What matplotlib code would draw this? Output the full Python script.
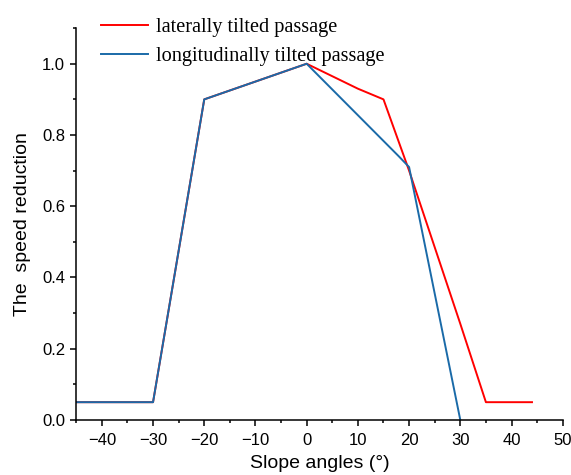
import matplotlib.pyplot as plt
import matplotlib as mpl
from matplotlib.ticker import MultipleLocator

# data
lat_x = [-45, -30, -20, -10, 0, 10, 15, 20, 30, 35, 44]
lat_y = [0.05, 0.05, 0.9, 0.95, 1.0, 0.93, 0.9, 0.7, 0.27, 0.05, 0.05]
lon_x = [-45, -30, -20, -13, 0, 18, 20, 30]
lon_y = [0.05, 0.05, 0.9, 0.935, 1.0, 0.74, 0.71, 0.0]

mpl.rcParams['font.family'] = ['Liberation Sans', 'DejaVu Sans']

fig = plt.figure(figsize=(5.71, 4.75), dpi=100)
ax = fig.add_axes([0.1335, 0.1158, 0.852, 0.825])

ax.plot(lat_x, lat_y, color='#ff0000', lw=1.4, label='laterally tilted passage')
ax.plot(lon_x, lon_y, color='#1a6aa8', lw=1.4, label='longitudinally tilted passage')

ax.set_xlim(-45, 50)
ax.set_ylim(0, 1.1)
ax.xaxis.set_major_locator(MultipleLocator(10))
ax.xaxis.set_minor_locator(MultipleLocator(5))
ax.yaxis.set_minor_locator(MultipleLocator(0.1))
ax.set_yticks([0, 0.2, 0.4, 0.6, 0.8, 1.0])
ax.yaxis.set_major_formatter(mpl.ticker.FormatStrFormatter('%.1f'))

for s in ['top', 'right']:
    ax.spines[s].set_visible(False)
for s in ['left', 'bottom']:
    ax.spines[s].set_linewidth(1.1)
ax.tick_params(which='major', direction='out', length=4.5, width=1.1, labelsize=12)
ax.tick_params(axis='x', which='major', pad=5)
ax.tick_params(which='minor', direction='out', length=2.5, width=1.1)

ax.set_xlabel('Slope angles (°)', fontsize=14, labelpad=5)
ax.set_ylabel('The  speed reduction', fontsize=14, labelpad=8)

leg = fig.legend(loc='upper left', bbox_to_anchor=(0.145, 1.0), frameon=False,
                 prop={'family': 'Liberation Serif', 'size': 14.6},
                 handlelength=2.3, handletextpad=0.4, labelspacing=0.45)

fig.savefig('out.png', dpi=100)
